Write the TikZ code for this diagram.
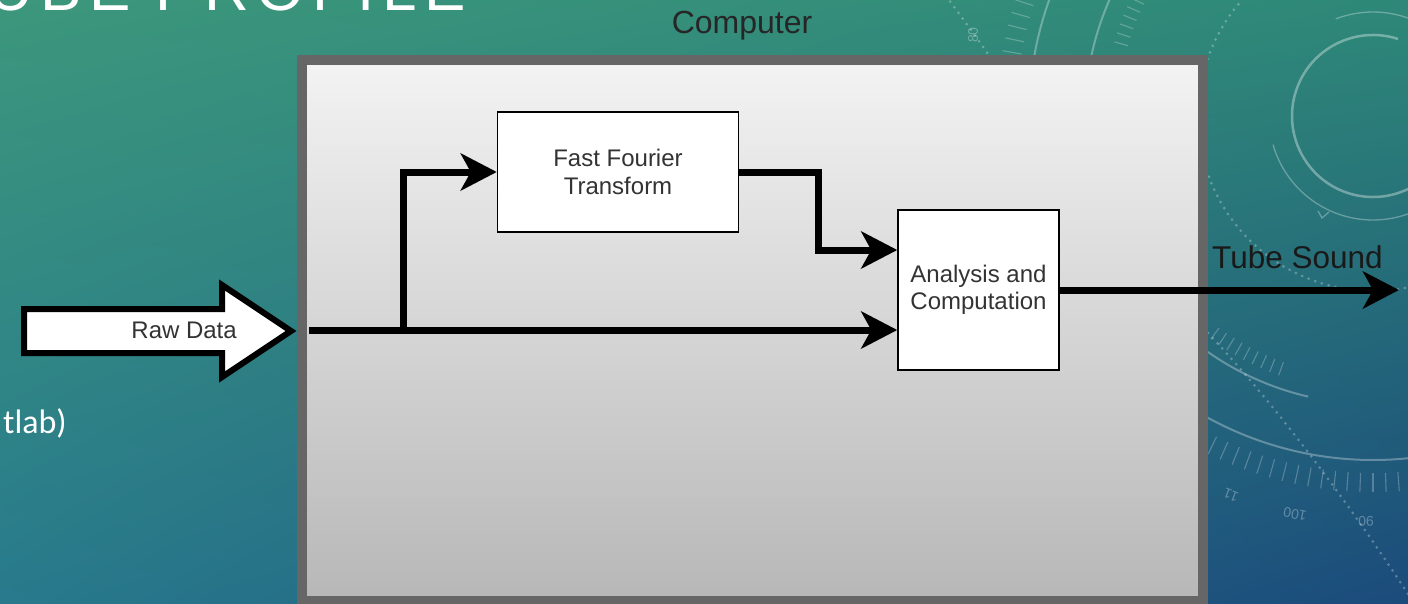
\documentclass[tikz,border=0pt]{standalone}
\usepackage{fontspec}
\setmainfont{Liberation Sans}
\newfontfamily\bodyfont{Carlito}
\usetikzlibrary{arrows.meta,calc,shadings}

\definecolor{bgTL}{HTML}{3C977C}
\definecolor{bgTR}{HTML}{2E8878}
\definecolor{bgBL}{HTML}{287A8C}
\definecolor{bgBR}{HTML}{1B4B7B}
\definecolor{frame}{HTML}{666666}
\definecolor{panelTop}{HTML}{F3F3F3}
\definecolor{panelBot}{HTML}{B7B7B7}
\definecolor{ink}{HTML}{333333}

\begin{document}
\begin{tikzpicture}[x=1pt,y=-1pt,
  blk/.style={draw=black, line width=1.5pt, fill=white, inner sep=0pt,
    align=center, text=ink, font=\fontsize{24}{27.5}\selectfont},
  flow/.style={line width=7pt, line join=miter,
    -{Stealth[length=36pt,width=37pt,inset=10pt]}},
  ring/.style={draw=white, draw opacity=0.35, line width=2.5pt},
  thin/.style={draw=white, draw opacity=0.3, line width=1.3pt},
  tick/.style={draw=white, draw opacity=0.25, line width=1.1pt},
  dots/.style={draw=white, draw opacity=0.28, line width=3pt, line cap=round,
    dash pattern=on 0pt off 7pt},
  scalenum/.style={text=white, text opacity=0.3, inner sep=0pt,
    font=\fontsize{14}{14}\selectfont},
]
\useasboundingbox (0,0) rectangle (1408,603);
\clip (0,0) rectangle (1408,603);

% slide background
\shade[upper left=bgTL, upper right=bgTR, lower left=bgBL, lower right=bgBR]
  (0,0) rectangle (1408,603);

% dial ornaments around a common hub
\coordinate (hub) at (1373,116);
\draw[ring] (hub) ++(-72:81) arc[start angle=-72, end angle=-330, radius=81];
\draw[thin] (hub) ++(-111:104) arc[start angle=-111, end angle=-55, radius=104];
\draw[thin] (hub) ++(164:104) arc[start angle=164, end angle=55, radius=104];
\draw[thin] (1318,211) -- (1322,218) -- (1329,212);
\draw[thin, line width=2pt] (hub) ++(125:288) arc[start angle=125, end angle=103, radius=288];
\draw[thin, line width=2pt] (hub) ++(-150:288) arc[start angle=-150, end angle=-172, radius=288];
\draw[thin, line width=2pt] (hub) ++(120:344) arc[start angle=120, end angle=75, radius=344];
\draw[thin, line width=2pt] (hub) ++(-150:344) arc[start angle=-150, end angle=-172, radius=344];
\foreach \a in {110,112,...,126} \draw[tick] (hub) ++(\a:262) -- ++(\a:14);
\foreach \a in {-164,-162,...,-154} \draw[tick] (hub) ++(\a:255) -- ++(\a:14);
\foreach \a in {80,82,...,118} \draw[tick] (hub) ++(\a:357) -- ++(\a:19);
\foreach \a in {-170,-168,...,-160} \draw[tick] (hub) ++(\a:357) -- ++(\a:19);
\draw[dots] (hub) ++(-122:175) arc[start angle=-122, end angle=-162, radius=175];
\draw[dots] (hub) ++(162:175) arc[start angle=162, end angle=40, radius=175];
\draw[dots] (1208,333) .. controls (1280,410) and (1350,505) .. (1410,597);
\draw[dots] (946,-4) .. controls (960,15) and (975,35) .. (990,57);
\node[scalenum, rotate=159] (n110) at (1231,495) {11};
\node[scalenum, rotate=169] (n100) at (1295,514) {100};
\node[scalenum, rotate=180] (n90) at (1366,521) {90};
\node[scalenum, rotate=90] (n80) at (973,35) {80};

% slide text
\node[anchor=base east, text=white, inner sep=0pt,
  font=\fontsize{62}{62}\selectfont\addfontfeature{LetterSpace=12}] (title) at (466,10) {UBE PROFILE};
\node[anchor=base east, text=white, inner sep=0pt,
  font=\bodyfont\fontsize{34}{40}\selectfont] (body) at (67,433) {tlab)};

% computer enclosure
\node[draw=frame, line width=10pt, top color=panelTop, bottom color=panelBot,
  minimum width=901pt, minimum height=541pt, inner sep=0pt] (computer) at (752.5,330.5) {};
\node[anchor=base, inner sep=0pt, text=black!85, font=\fontsize{32}{36}\selectfont] (complabel) at (742,33) {Computer};

% input block arrow
\draw[line width=6pt, fill=white, line join=miter, miter limit=10]
  (24,309) -- (222,309) -- (222,285) -- (291,331) -- (222,377) -- (222,353) -- (24,353) -- cycle;
\node[anchor=base east, text=ink, inner sep=0pt, font=\fontsize{24}{27}\selectfont] (rawlbl) at (237,338) {Raw Data};

% processing blocks
\node[blk, minimum width=241pt, minimum height=120pt] (fft) at (618,172) {Fast Fourier\\Transform};
\node[blk, minimum width=161pt, minimum height=160pt] (ana) at (978.5,290) {Analysis and\\Computation};

% signal paths
\coordinate (feed) at (309,330);
\coordinate (split) at (403,330);
\coordinate (bend) at (818,172);
\coordinate (soundout) at (1399,290);
\draw[flow] (feed) -- ($(ana.west)+(0,40)$);
\draw[flow] (split) |- (fft.west);
\draw[flow] (fft.east) -- (bend) |- ($(ana.west)+(0,-40)$);
\draw[flow] (ana.east) -- (soundout);
\node[anchor=base west, inner sep=0pt, text=black!90, font=\fontsize{31.5}{36}\selectfont] (soundlbl) at (1212,268) {Tube Sound};
\end{tikzpicture}
\end{document}
